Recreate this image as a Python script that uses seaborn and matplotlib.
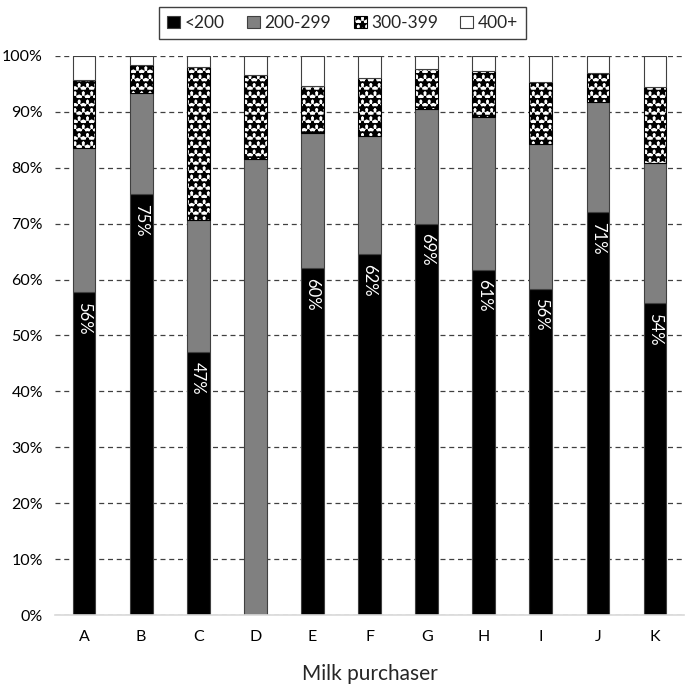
import numpy as np
import pandas as pd
import matplotlib.pyplot as plt
import seaborn as sns
from matplotlib.patches import Patch
from matplotlib.ticker import PercentFormatter, MultipleLocator

# share of samples per bin (%)
purchasers = ['A', 'B', 'C', 'D', 'E', 'F', 'G', 'H', 'I', 'J', 'K']
lt200 = [57.8, 75.3, 47.0, 0.0, 62.0, 64.5, 70.0, 61.8, 58.4, 72.1, 55.8]
r200_299 = [25.8, 18.0, 23.7, 81.6, 24.2, 21.1, 20.5, 27.2, 25.9, 19.7, 25.1]
r300_399 = [12.1, 5.1, 27.3, 15.0, 8.5, 10.5, 7.2, 8.3, 11.0, 5.2, 13.6]
r400plus = [4.3, 1.6, 2.0, 3.4, 5.3, 3.9, 2.3, 2.7, 4.7, 3.0, 5.5]
bar_labels = ['56%', '75%', '47%', '', '60%', '62%', '69%', '61%', '56%', '71%', '54%']

series = ['<200', '200-299', '300-399', '400+']
layers = [lt200, r200_299, r300_399, r400plus]
fills = ['black', '#808080', 'white', 'white']
hatches = [None, None, '**', None]
edges = ['#404040', '#404040', 'black', '#404040']

sns.set_theme(style='white')
plt.rcParams['font.family'] = ['Lato', 'DejaVu Sans']
plt.rcParams['hatch.color'] = 'black'
plt.rcParams['hatch.linewidth'] = 1.6

fig = plt.figure(figsize=(6.85, 6.87), dpi=100)
ax = fig.add_axes([0.081, 0.1048, 0.917, 0.8137])

bottom = np.zeros(len(purchasers))
for vals, fc, h, ec in zip(layers, fills, hatches, edges):
    sns.barplot(x=purchasers, y=vals, bottom=bottom, color=fc, saturation=1,
                width=0.4, edgecolor=ec, linewidth=0.8, hatch=h,
                errorbar=None, ax=ax)
    bottom = bottom + np.array(vals)

# percentage labels inside the black segment
for i, (v, lab) in enumerate(zip(lt200, bar_labels)):
    if lab:
        ax.annotate(lab, xy=(i, v), xytext=(0, -7), textcoords='offset points',
                    rotation=270, ha='center', va='top', color='white', fontsize=12)

ax.set_ylim(0, 100)
ax.set_xlim(-0.5, len(purchasers) - 0.5)
ax.yaxis.set_major_locator(MultipleLocator(10))
ax.yaxis.set_major_formatter(PercentFormatter(100, decimals=0))
ax.grid(axis='y', color='#404040', linestyle=(0, (4, 3)), linewidth=0.9)
ax.set_axisbelow(True)
for s in ['top', 'left', 'right']:
    ax.spines[s].set_visible(False)
ax.spines['bottom'].set_color('#d9d9d9')
ax.spines['bottom'].set_linewidth(1.2)
ax.tick_params(axis='both', length=0, labelsize=11.5, colors='black')
ax.tick_params(axis='y', pad=9)
ax.tick_params(axis='x', pad=11)
ax.set_xlabel('Milk purchaser', fontsize=15, labelpad=14)
ax.set_ylabel('')

handles = [Patch(facecolor=fc, edgecolor=ec, hatch=h, linewidth=0.8)
           for fc, h, ec in zip(fills, hatches, edges)]
fig.legend(handles, series, loc='upper center', bbox_to_anchor=(0.5, 0.997),
           ncol=4, frameon=True, fancybox=False, edgecolor='#404040',
           framealpha=1, fontsize=12.5, handlelength=0.75, handleheight=0.75,
           handletextpad=0.25, columnspacing=1.3, borderpad=0.45,
           borderaxespad=0.3)

fig.savefig('out.png', dpi=100)
